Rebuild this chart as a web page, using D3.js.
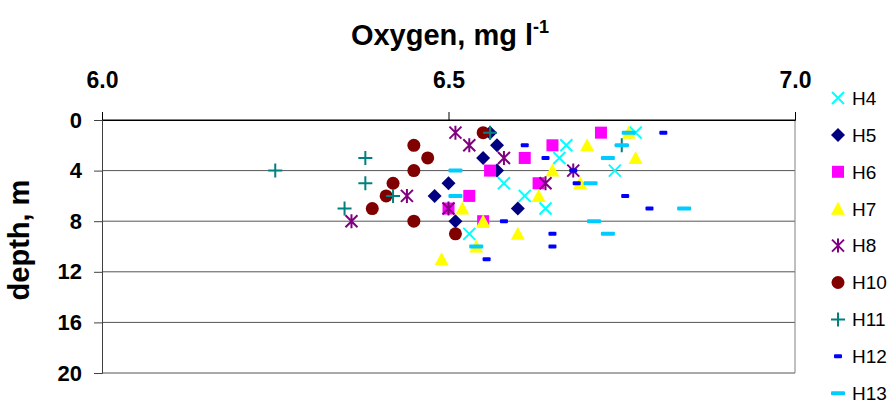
<!DOCTYPE html>
<html>
<head>
<meta charset="utf-8">
<script src="https://cdn.jsdelivr.net/npm/d3@7"></script>
<style>
	body { margin: 0; background: #fff; }
	text { font-family: "Liberation Sans", Arial, sans-serif; }
</style>
</head>
<body>
<div id="chart"></div>
<script>
// oxygen (mg/l) and depth (m), one array per station
const seriesNames = ['H4', 'H5', 'H6', 'H7', 'H8', 'H10', 'H11', 'H12', 'H13']
const xTicks = [6.0, 6.5, 7.0]
const yTicks = [0, 4, 8, 12, 16, 20]

const h4 = [[6.77, 1], [6.67, 2], [6.66, 3], [6.74, 4], [6.58, 5], [6.61, 6], [6.64, 7], [6.53, 9]]
const h5 = [[6.56, 1], [6.57, 2], [6.55, 3], [6.57, 4], [6.50, 5], [6.48, 6], [6.60, 7], [6.51, 8]]
const h6 = [[6.72, 1], [6.65, 2], [6.61, 3], [6.56, 4], [6.63, 5], [6.53, 6], [6.50, 7], [6.55, 8]]
const h7 = [[6.76, 1], [6.70, 2], [6.77, 3], [6.65, 4], [6.69, 5], [6.63, 6], [6.52, 7], [6.55, 8], [6.60, 9], [6.54, 10], [6.49, 11]]
const h8 = [[6.51, 1], [6.53, 2], [6.58, 3], [6.68, 4], [6.64, 5], [6.44, 6], [6.50, 7], [6.36, 8]]
const h10 = [[6.55, 1], [6.45, 2], [6.47, 3], [6.45, 4], [6.42, 5], [6.41, 6], [6.39, 7], [6.45, 8], [6.51, 9]]
const h11 = [[6.56, 1], [6.75, 2], [6.38, 3], [6.25, 4], [6.38, 5], [6.42, 6], [6.35, 7]]
const h12 = [[6.81, 1], [6.61, 2], [6.64, 3], [6.68, 4], [6.685, 5], [6.755, 6], [6.79, 7], [6.58, 8], [6.65, 9], [6.65, 10], [6.555, 11]]
const h13 = [[6.76, 1], [6.75, 2], [6.73, 3], [6.51, 4], [6.705, 5], [6.51, 6], [6.84, 7], [6.71, 8], [6.73, 9], [6.54, 10]]

const seriesData = [h4, h5, h6, h7, h8, h10, h11, h12, h13]

// marker look per series
const markers = {
	H4: { kind: 'x', color: '#00ffff' },
	H5: { kind: 'diamond', color: '#000080' },
	H6: { kind: 'square', color: '#ff00ff' },
	H7: { kind: 'triangle', color: '#ffff00' },
	H8: { kind: 'star', color: '#800080' },
	H10: { kind: 'circle', color: '#800000' },
	H11: { kind: 'plus', color: '#008080' },
	H12: { kind: 'dash', color: '#0000ff' },
	H13: { kind: 'longdash', color: '#00ccff' }
}

const width = 892
const height = 403

const svg = d3.select('#chart').append('svg')
	.attr('width', width)
	.attr('height', height)

const x = d3.scaleLinear().domain([6, 7]).range([102, 795])
const y = d3.scaleLinear().domain([0, 20]).range([120, 373])

// gridlines
svg.append('g')
	.selectAll('line')
	.data(yTicks)
	.enter()
	.append('line')
	.attr('x1', x(6))
	.attr('x2', x(7))
	.attr('y1', d => y(d))
	.attr('y2', d => y(d))
	.attr('stroke', d => d === 0 ? '#000' : '#555')
	.attr('stroke-width', 1)

// right border
svg.append('line')
	.attr('x1', x(7)).attr('x2', x(7))
	.attr('y1', y(0)).attr('y2', y(20))
	.attr('stroke', '#808080')

// top axis (oxygen)
const xAxis = svg.append('g')
	.attr('transform', `translate(0,${y(0)})`)
	.call(d3.axisTop(x).tickValues(xTicks).tickFormat(d3.format('.1f')).tickSize(8).tickPadding(24))
xAxis.select('.domain').attr('stroke', '#000')
xAxis.selectAll('text')
	.attr('fill', '#000')
	.style('font-size', '23px')
	.style('font-weight', 'bold')

// left axis (depth)
const yAxis = svg.append('g')
	.attr('transform', `translate(${x(6)},0)`)
	.call(d3.axisLeft(y).tickValues(yTicks).tickSize(8).tickPadding(12))
yAxis.select('.domain').attr('stroke', '#404040')
yAxis.selectAll('.tick line').attr('stroke', '#404040')
yAxis.selectAll('text')
	.attr('fill', '#000')
	.style('font-size', '22px')
	.style('font-weight', 'bold')

// titles
const title = svg.append('text')
	.attr('x', 450)
	.attr('y', 45)
	.attr('text-anchor', 'middle')
	.style('font-size', '29px')
	.style('font-weight', 'bold')
title.append('tspan').text('Oxygen, mg l')
title.append('tspan').attr('dy', -12).style('font-size', '18px').text('-1')

svg.append('text')
	.attr('transform', 'translate(29,240) rotate(-90)')
	.attr('text-anchor', 'middle')
	.style('font-size', '29px')
	.style('font-weight', 'bold')
	.text('depth, m')

// draw one marker into a group centred at 0,0
function drawMarker(g, m) {
	if (m.kind === 'x') {
		g.append('path').attr('d', 'M-6,-6L6,6M-6,6L6,-6')
			.attr('stroke', m.color).attr('stroke-width', 2).attr('fill', 'none')
	} else if (m.kind === 'star') {
		g.append('path').attr('d', 'M-6,-6L6,6M-6,6L6,-6M0,-7L0,7')
			.attr('stroke', m.color).attr('stroke-width', 2).attr('fill', 'none')
	} else if (m.kind === 'plus') {
		g.append('path').attr('d', 'M-7,0L7,0M0,-7L0,7')
			.attr('stroke', m.color).attr('stroke-width', 2).attr('fill', 'none')
	} else if (m.kind === 'diamond') {
		g.append('path').attr('d', 'M0,-7L7,0L0,7L-7,0Z').attr('fill', m.color)
	} else if (m.kind === 'square') {
		g.append('rect').attr('x', -6).attr('y', -6).attr('width', 12).attr('height', 12).attr('fill', m.color)
	} else if (m.kind === 'triangle') {
		g.append('path').attr('d', 'M0,-7L7,6L-7,6Z').attr('fill', m.color)
	} else if (m.kind === 'circle') {
		g.append('circle').attr('r', 6.5).attr('fill', m.color)
	} else if (m.kind === 'dash') {
		g.append('rect').attr('x', -4).attr('y', -2).attr('width', 8).attr('height', 4).attr('rx', 1).attr('fill', m.color)
	} else if (m.kind === 'longdash') {
		g.append('rect').attr('x', -7).attr('y', -2).attr('width', 14).attr('height', 4).attr('rx', 1).attr('fill', m.color)
	}
}

// points
seriesNames.forEach((name, i) => {
	const m = markers[name]
	svg.append('g')
		.attr('class', 'series-' + name)
		.selectAll('g')
		.data(seriesData[i])
		.enter()
		.append('g')
		.attr('transform', d => `translate(${x(d[0])},${y(d[1])})`)
		.each(function () { drawMarker(d3.select(this), m) })
})

// legend
const legend = svg.append('g')
	.selectAll('g')
	.data(seriesNames)
	.enter()
	.append('g')
	.attr('transform', (d, i) => `translate(838,${98 + i * 36.9})`)

legend.each(function (d) { drawMarker(d3.select(this), markers[d]) })
legend.append('text')
	.attr('x', 14)
	.attr('dy', '0.36em')
	.style('font-size', '19px')
	.text(d => d)
</script>
</body>
</html>
